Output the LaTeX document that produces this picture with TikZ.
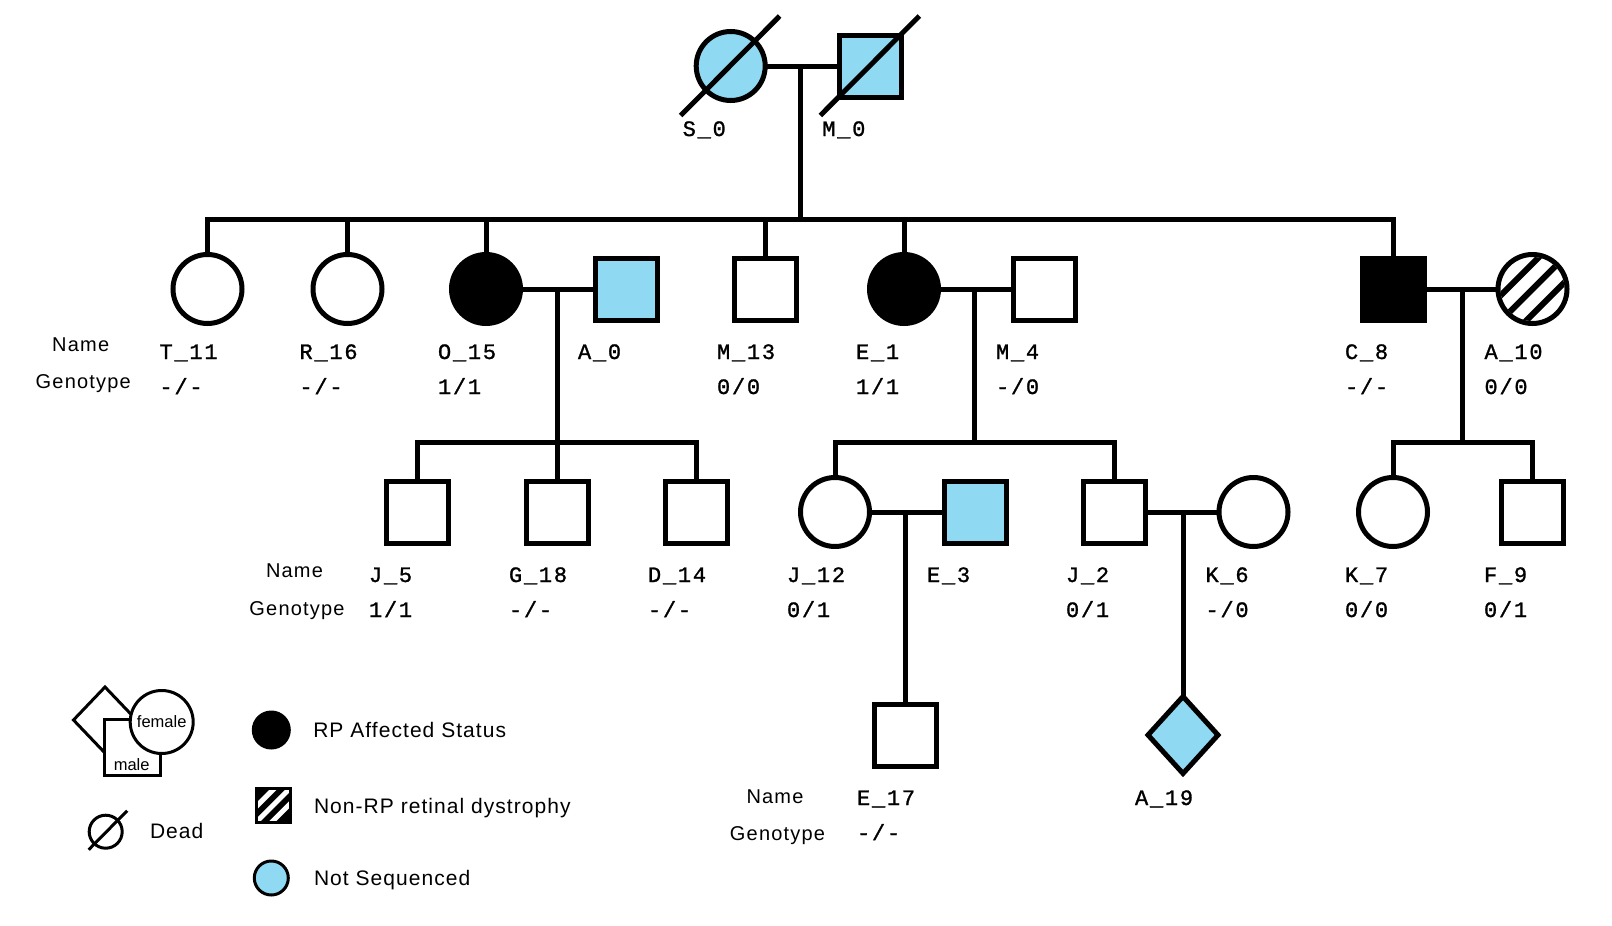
\documentclass[tikz,border=0pt]{standalone}
\usepackage{fontspec}
\setmainfont{Liberation Sans}
\newfontfamily\idfont{Liberation Mono}[LetterSpace=8, FakeBold=1.2]
\newfontfamily\rowfont{Liberation Sans}[LetterSpace=6]
\newfontfamily\keyfont{Liberation Sans}[LetterSpace=5]
\usetikzlibrary{shapes.geometric}
\definecolor{unseq}{RGB}{143,218,242}

% name and genotype printed under an individual
\newcommand{\idtag}[3]{%
  \node[idlabel] (#1-id) at ([shift={(-48,70)}]#1.center) {#2};
  \ifx\relax#3\relax\else
    \node[idlabel] (#1-gt) at ([shift={(-48,105)}]#1.center) {#3};
  \fi}
% slash across a deceased individual
\newcommand{\deceased}[1]{%
  \draw[link] ([shift={(-50,49.5)}]#1.center) -- ([shift={(49,-50)}]#1.center);}

\begin{document}
\begin{tikzpicture}[x=1pt,y=-1pt,
  every node/.style={inner sep=0pt, outer sep=0pt},
  link/.style={line width=5pt},
  female/.style={circle, draw, line width=5pt, minimum size=69pt, fill=white},
  male/.style={rectangle, draw, line width=5pt, minimum size=62pt, fill=white},
  sexunknown/.style={diamond, draw, line width=5pt, minimum width=70pt, minimum height=77pt, fill=white},
  affected/.style={fill=black},
  notseq/.style={fill=unseq},
  idlabel/.style={anchor=base west, font=\idfont\fontsize{22}{22}\selectfont},
  rowlabel/.style={anchor=base, font=\rowfont\fontsize{20}{20}\selectfont},
  keytext/.style={anchor=base west, font=\keyfont\fontsize{21}{21}\selectfont},
  keyline/.style={draw, line width=3pt},
]
\useasboundingbox (0,0) rectangle (1612,926);

% ---------------- generation I
\node[female, notseq] (s0) at (730.7,66) {};
\node[male, notseq]   (m0) at (870.3,66) {};
\coordinate (j0)  at (800,66);
\coordinate (j0s) at (800,219.5);

% ---------------- generation II
\node[female] (t11) at (207.5,289) {};
\node[female] (r16) at (347.5,289) {};
\node[female, affected] (o15) at (486,289) {};
\node[male, notseq] (a0) at (626,289) {};
\node[male] (m13) at (765,289) {};
\node[female, affected] (e1) at (904,289) {};
\node[male] (m4) at (1044,289) {};
\node[male, affected] (c8) at (1393,289) {};
\node[female] (a10) at (1532.5,289) {};
\coordinate (j1a)  at (557,289);
\coordinate (j1as) at (557,442.7);
\coordinate (j1b)  at (974.5,289);
\coordinate (j1bs) at (974.5,442.7);
\coordinate (j1c)  at (1462.5,289);
\coordinate (j1cs) at (1462.5,442.7);

% ---------------- generation III
\node[male] (j5)  at (417,512) {};
\node[male] (g18) at (557,512) {};
\node[male] (d14) at (696,512) {};
\node[female] (j12) at (835,512) {};
\node[male, notseq] (e3) at (975,512) {};
\node[male] (j2) at (1114,512) {};
\node[female] (k6) at (1253.5,512) {};
\node[female] (k7) at (1393,512) {};
\node[male] (f9) at (1532,512) {};
\coordinate (j2a) at (905,512);
\coordinate (j2b) at (1183,512);

% ---------------- generation IV
\node[male] (e17) at (905,735) {};
\node[sexunknown, notseq] (a19) at (1183,735) {};

% ---------------- lines of descent
\draw[link] (s0) -- (m0);
\draw[link] (j0) -- (j0s);
\draw[link] (t11.north) -- (t11.north |- j0s) -- (c8.north |- j0s) -- (c8.north);
\foreach \p in {r16,o15,m13,e1}
  \draw[link] (\p.north) -- (\p.north |- j0s);

\draw[link] (o15) -- (a0);
\draw[link] (j1a) -- (j1as);
\draw[link] (j5.north) -- (j5.north |- j1as) -- (d14.north |- j1as) -- (d14.north);
\draw[link] (g18.north) -- (g18.north |- j1as);

\draw[link] (e1) -- (m4);
\draw[link] (j1b) -- (j1bs);
\draw[link] (j12.north) -- (j12.north |- j1bs) -- (j2.north |- j1bs) -- (j2.north);

\draw[link] (c8) -- (a10);
\draw[link] (j1c) -- (j1cs);
\draw[link] (k7.north) -- (k7.north |- j1cs) -- (f9.north |- j1cs) -- (f9.north);

\draw[link] (j12) -- (e3);
\draw[link] (j2a) -- (e17.north);
\draw[link] (j2) -- (k6);
\draw[link] (j2b) -- (a19.north);

% deceased founders
\deceased{s0}
\deceased{m0}

% non-RP retinal dystrophy hatching
\begin{scope}
  \clip (a10.center) circle[radius=32];
  \foreach \d in {-18,0,18}
    \draw[line width=6pt] ([shift={(\d*0.7071-45,\d*0.7071+45)}]a10.center)
      -- ([shift={(\d*0.7071+45,\d*0.7071-45)}]a10.center);
\end{scope}

% ---------------- names and genotypes
\idtag{s0}{S\_0}{}
\idtag{m0}{M\_0}{}
\idtag{t11}{T\_11}{-/-}
\idtag{r16}{R\_16}{-/-}
\idtag{o15}{O\_15}{1/1}
\idtag{a0}{A\_0}{}
\idtag{m13}{M\_13}{0/0}
\idtag{e1}{E\_1}{1/1}
\idtag{m4}{M\_4}{-/0}
\idtag{c8}{C\_8}{-/-}
\idtag{a10}{A\_10}{0/0}
\idtag{j5}{J\_5}{1/1}
\idtag{g18}{G\_18}{-/-}
\idtag{d14}{D\_14}{-/-}
\idtag{j12}{J\_12}{0/1}
\idtag{e3}{E\_3}{}
\idtag{j2}{J\_2}{0/1}
\idtag{k6}{K\_6}{-/0}
\idtag{k7}{K\_7}{0/0}
\idtag{f9}{F\_9}{0/1}
\idtag{e17}{E\_17}{-/-}
\idtag{a19}{A\_19}{}

\node[rowlabel] (nm1) at (80.7,351) {Name};
\node[rowlabel] (gt1) at (83.3,388) {Genotype};
\node[rowlabel] (nm2) at (294.5,577) {Name};
\node[rowlabel] (gt2) at (297,615) {Genotype};
\node[rowlabel] (nm3) at (775,803.5) {Name};
\node[rowlabel] (gt3) at (777.5,840.5) {Genotype};

% ---------------- key
\node[diamond, keyline, minimum width=63pt, minimum height=66pt] (kd) at (105,720) {};
\node[rectangle, keyline, fill=white, minimum size=56pt] (ks) at (132.5,747.8) {};
\node[circle, keyline, fill=white, minimum size=63pt,
      font=\fontsize{16.5}{16.5}\selectfont] (kc) at (161.7,722) {female};
\node[font=\fontsize{16.5}{16.5}\selectfont] (km) at (131.7,765) {male};

\node[circle, keyline, minimum size=33pt] (kdc) at (105.7,831.7) {};
\draw[keyline] ([shift={(-17,18)}]kdc.center) -- ([shift={(21.5,-21)}]kdc.center);
\node[keytext] (kdt) at (150,838.7) {Dead};

\node[circle, keyline, fill=black, minimum size=36pt] (ka) at (271.3,730) {};
\node[keytext] (kat) at (313.3,737.7) {RP Affected Status};

\node[rectangle, keyline, fill=black, minimum size=34pt] (kh) at (273.3,805) {};
\begin{scope}
  \clip (kh.south west) rectangle (kh.north east);
  \foreach \d in {-11,0,11}
    \draw[white, line width=5pt] ([shift={(\d*0.7071-30,\d*0.7071+30)}]kh.center)
      -- ([shift={(\d*0.7071+30,\d*0.7071-30)}]kh.center);
\end{scope}
\draw[line width=3pt] (kh.south west) rectangle (kh.north east);
\node[keytext] (kht) at (314,813) {Non-RP retinal dystrophy};

\node[circle, keyline, fill=unseq, minimum size=34pt] (kn) at (271.3,878) {};
\node[keytext] (knt) at (314,885) {Not Sequenced};
\end{tikzpicture}
\end{document}
